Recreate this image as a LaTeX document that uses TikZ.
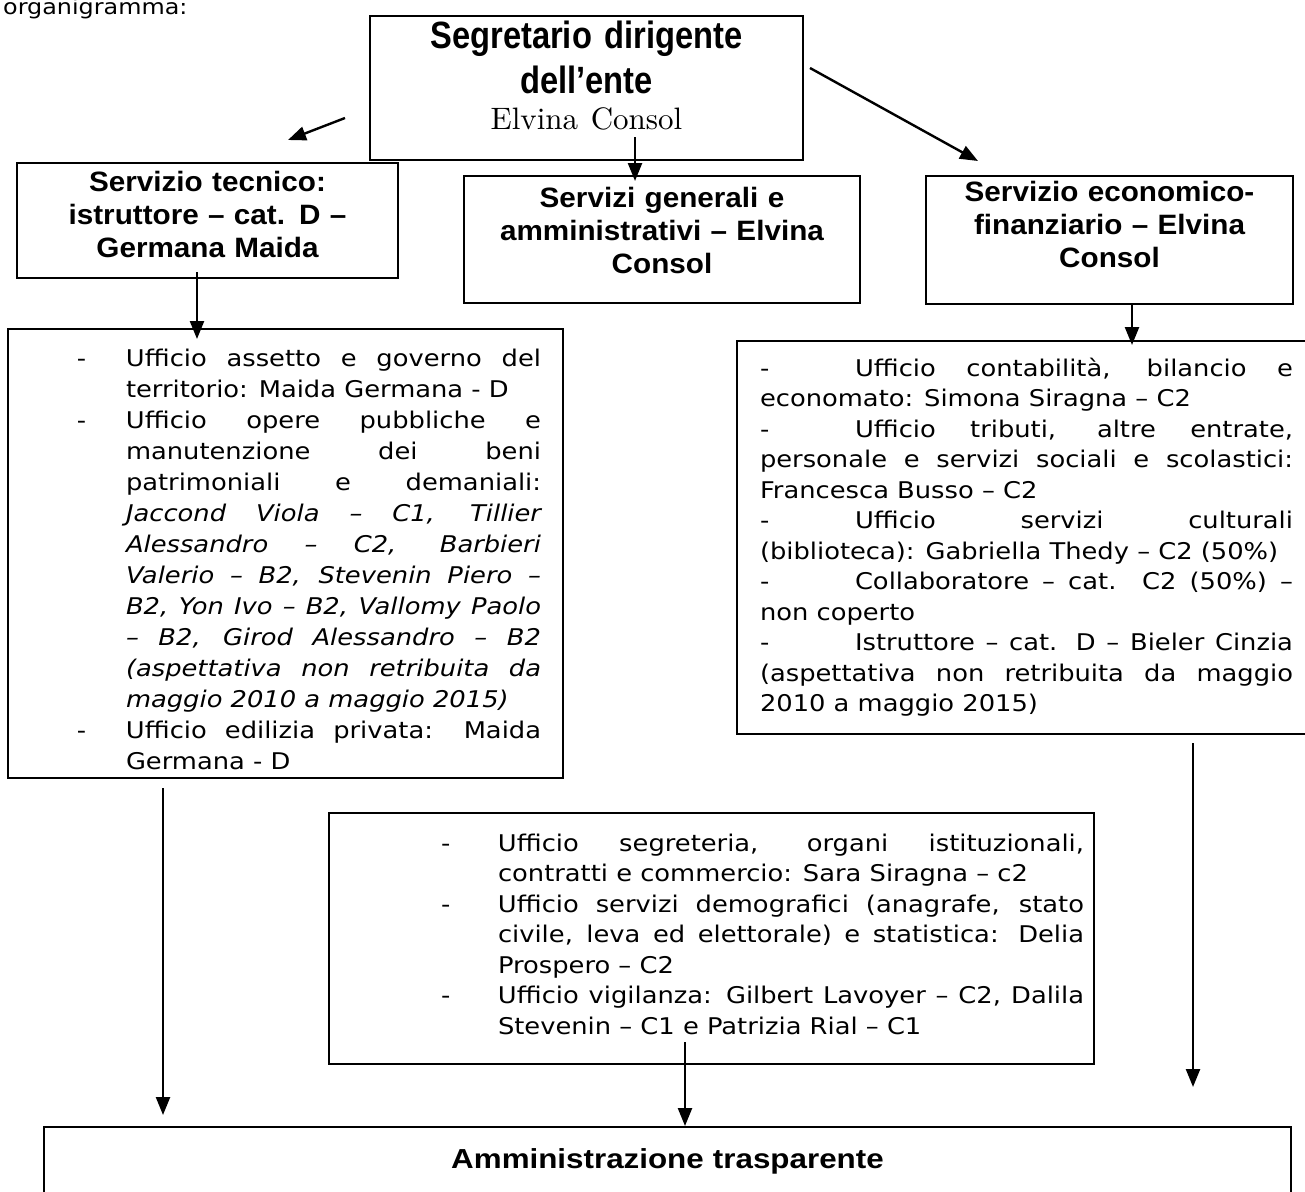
\documentclass[tikz,border=0pt]{standalone}
\usepackage{fontspec}
\setmainfont{DejaVu Sans}[FakeStretch=1.12]
\newfontfamily\titolofont{Liberation Sans}[FakeStretch=1.06]
\newfontfamily\testatafont{Liberation Sans}[FakeStretch=0.86]
\newfontfamily\fondofont{Liberation Sans}[FakeStretch=1.14]
\newfontfamily\nomefont{lmroman10-regular.otf}
\usetikzlibrary{arrows.meta}
\tolerance=10000
\hyphenpenalty=10000
% voce con trattino e rientro sospeso
\newcommand{\voce}[2]{\hangindent=#1\hangafter=1\noindent\hbox to #1{-\hfil}#2\par}
\newcommand{\trattino}{\noindent\hbox to 95pt{-\hfil}}
\tikzset{
  titolo/.style={draw, line width=2pt, inner sep=0pt, anchor=north west, align=center,
    font=\titolofont\bfseries\fontsize{28}{33}\selectfont},
  elenco/.style={draw, line width=2pt, inner sep=0pt, anchor=north west, align=justify},
  freccia/.style={-{Triangle[length=18pt,width=14pt]}, line width=2.4pt}
}

\begin{document}
\begin{tikzpicture}[x=1pt, y=-1pt]
  \useasboundingbox (0,0) rectangle (1305,1191);

  \node[anchor=base west, inner sep=0pt, font=\fontsize{21.3}{25}\selectfont] (intestazione) at (3,14) {organigramma:};

  \node[draw, line width=2pt, inner sep=0pt, anchor=north west, align=center,
        text width=433pt, text height=32pt, text depth=112pt,
        font=\testatafont\bfseries\fontsize{38}{45}\selectfont] (segretario) at (369,15)
        {Segretario dirigente\\ dell’ente\\[-9pt] {\nomefont\mdseries\fontsize{31}{36}\selectfont Elvina Consol}};

  \node[titolo, text width=381pt, text height=28pt, text depth=87pt] (tecnico) at (16,162)
        {Servizio tecnico:\\ istruttore – cat. D –\\ Germana Maida};
  \node[titolo, text width=396pt, text height=31pt, text depth=96pt] (generali) at (463,175)
        {Servizi generali e\\ amministrativi – Elvina\\ Consol};
  \node[titolo, text width=367pt, text height=25pt, text depth=103pt] (economico) at (925,175)
        {Servizio economico-\\ finanziario – Elvina\\ Consol};

  \node[elenco, text width=555pt, text height=37pt, text depth=412pt,
        font=\fontsize{23}{31}\selectfont] (ufftecnico) at (7,328) {%
    \leftskip=69pt\relax \rightskip=22pt\relax
    \voce{49pt}{Ufficio assetto e governo del\linebreak territorio: Maida Germana - D}
    \voce{49pt}{Ufficio opere pubbliche e\linebreak manutenzione dei beni\linebreak patrimoniali e demaniali:\linebreak
      \textit{Jaccond Viola – C1, Tillier\linebreak Alessandro – C2, Barbieri\linebreak Valerio – B2, Stevenin Piero –\linebreak
      B2, Yon Ivo – B2, Vallomy Paolo\linebreak – B2, Girod Alessandro – B2\linebreak (aspettativa non retribuita da\linebreak
      maggio 2010 a maggio 2015)}}
    \voce{49pt}{Ufficio edilizia privata: Maida\linebreak Germana - D}};

  \node[elenco, text width=579pt, text height=35pt, text depth=358pt,
        font=\fontsize{23}{30.5}\selectfont] (uffeconomico) at (736,340) {%
    \leftskip=23pt\relax \rightskip=23pt\relax
    \trattino Ufficio contabilità, bilancio e\linebreak economato: Simona Siragna – C2\par
    \trattino Ufficio tributi, altre entrate,\linebreak personale e servizi sociali e scolastici:\linebreak Francesca Busso – C2\par
    \trattino Ufficio servizi culturali\linebreak (biblioteca): Gabriella Thedy – C2 (50\%)\par
    \trattino Collaboratore – cat. C2 (50\%) –\linebreak non coperto\par
    \trattino Istruttore – cat. D – Bieler Cinzia\linebreak (aspettativa non retribuita da maggio\linebreak 2010 a maggio 2015)\par};

  \node[elenco, text width=765pt, text height=38pt, text depth=213pt,
        font=\fontsize{23}{30.5}\selectfont] (uffgenerali) at (328,812) {%
    \leftskip=112pt\relax \rightskip=10pt\relax
    \voce{57pt}{Ufficio segreteria, organi istituzionali,\linebreak contratti e commercio: Sara Siragna – c2}
    \voce{57pt}{Ufficio servizi demografici (anagrafe, stato\linebreak civile, leva ed elettorale) e statistica: Delia\linebreak Prospero – C2}
    \voce{57pt}{Ufficio vigilanza: Gilbert Lavoyer – C2, Dalila\linebreak Stevenin – C1 e Patrizia Rial – C1}};

  \node[draw, line width=2pt, inner sep=0pt, anchor=north west, align=center,
        text width=1247pt, text height=41pt, text depth=100pt,
        font=\fondofont\bfseries\fontsize{27.5}{33}\selectfont] (trasparente) at (43,1126)
        {Amministrazione trasparente};

  % estremi liberi delle frecce
  \coordinate (sx1) at (345,118);  \coordinate (sx2) at (288,140);
  \coordinate (dx1) at (810,68);   \coordinate (dx2) at (978,161);
  \coordinate (ce1) at (635,137);  \coordinate (ce2) at (635,181);
  \coordinate (te1) at (197,272);  \coordinate (te2) at (197,339);
  \coordinate (ec2) at (1132,345);
  \coordinate (lu1) at (163,788);  \coordinate (lu2) at (163,1115);
  \coordinate (ld1) at (1193,743); \coordinate (ld2) at (1193,1087);
  \coordinate (mb1) at (685,1042);

  \draw[freccia] (sx1) -- (sx2);
  \draw[freccia] (dx1) -- (dx2);
  \draw[freccia] (ce1) -- (ce2);
  \draw[freccia] (te1) -- (te2);
  \draw[freccia] (economico.south -| ec2) -- (ec2);
  \draw[freccia] (lu1) -- (lu2);
  \draw[freccia] (ld1) -- (ld2);
  \draw[freccia] (mb1) -- (mb1 |- trasparente.north);
\end{tikzpicture}
\end{document}
